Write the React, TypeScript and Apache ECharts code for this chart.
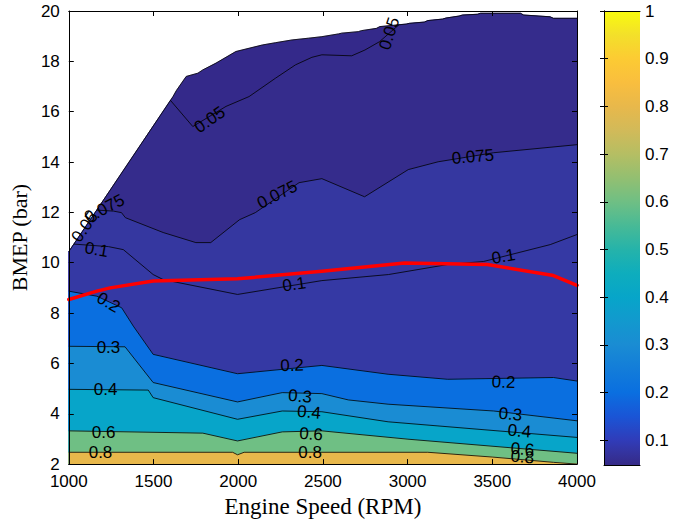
import React, { useEffect, useRef } from 'react';
import * as echarts from 'echarts';

// ---------- data ----------
const rpmMin = 1000;
const rpmMax = 4000;
const bmepMin = 2;
const bmepMax = 20;
const colorMin = 0.048;
const colorMax = 1;
const colorbarTicks = [0.1, 0.2, 0.3, 0.4, 0.5, 0.6, 0.7, 0.8, 0.9, 1];

// outline of the measured region (top edge)
const boundary: number[][] = [
  [1000, 10.44], [1615, 16.6], [1635, 16.84], [1693, 17.4], [1762, 17.53], [1791, 17.66],
  [1869, 17.93], [1986, 18.39], [2064, 18.52], [2143, 18.65], [2220, 18.74], [2318, 18.85],
  [2416, 18.92], [2494, 18.98], [2592, 19.09], [2611, 19.12], [2709, 19.18], [2728, 19.22],
  [2816, 19.31], [2836, 19.38], [2992, 19.48], [3011, 19.51], [3099, 19.56], [3119, 19.62],
  [3207, 19.68], [3226, 19.72], [3304, 19.8], [3324, 19.84], [3412, 19.87], [3431, 19.91],
  [3666, 19.91], [3685, 19.84], [3841, 19.77], [3861, 19.71], [4000, 19.71],
];

const contourLevels = [0.05, 0.075, 0.1, 0.2, 0.3, 0.4, 0.6, 0.8];
const c005 = [[1600, 16.45], [1732, 15.41], [1928, 16.21], [2064, 16.6], [2220, 17.33], [2338, 17.86], [2435, 18.16], [2494, 18.26], [2670, 18.22], [2748, 18.45], [2834, 18.78], [2950, 19.46]];
const c0075 = [[1165, 12.09], [1264, 12.05], [1311, 11.99], [1334, 11.79], [1557, 11.2], [1750, 10.8], [1838, 10.8], [2008, 11.71], [2101, 11.99], [2359, 13.18], [2494, 13.34], [2746, 12.62], [3004, 13.7], [3180, 14.01], [3508, 14.37], [4000, 14.69]];
const c01 = [[1030, 10.74], [1234, 10.64], [1322, 10.52], [1498, 9.53], [1557, 9.33], [1996, 8.74], [2494, 9.29], [2887, 9.53], [3238, 9.93], [3449, 10.05], [3842, 10.72], [4000, 11.12]];
const c02 = [[1000, 8.87], [1166, 8.67], [1312, 8.21], [1381, 7.48], [1498, 6.36], [1996, 5.59], [2494, 5.92], [2885, 5.57], [3236, 5.37], [3861, 5.44], [4000, 5.3]];
const c03 = [[1000, 6.68], [1332, 6.66], [1498, 5.24], [1996, 4.47], [2260, 4.84], [2494, 4.8], [2650, 4.55], [2885, 4.38], [3508, 4.11], [4000, 3.72]];
const c04 = [[1000, 4.97], [1469, 4.94], [1498, 4.64], [1996, 3.78], [2260, 4.11], [2494, 4.08], [2885, 3.68], [4000, 3.06]];
const c06 = [[1000, 3.32], [1791, 3.23], [1996, 2.92], [2260, 3.28], [2494, 3.32], [3002, 2.99], [4000, 2.43]];
const c08 = [[1000, 2.47], [1967, 2.47], [1996, 2.37], [2035, 2.47], [3119, 2.47], [3500, 2.28], [3861, 2.07], [4000, 2.0]];
const contourLines = [c005, c0075, c01, c02, c03, c04, c06, c08];

// fill colours: below 0.05, then one per level (region above each level)
const bandColors = ['#34298A', '#352C8C', '#3537A0', '#3539A4', '#0A6FE0', '#1A8CD3', '#07A5C9', '#6FBF84', '#E8B84B'];

// contour labels: [text, rpm, bmep, rotation deg]
const contourLabels: [string, number, number, number][] = [
  ['0.05', 1832, 15.68, 35],
  ['0.05', 2892, 19.1, 72],
  ['0.05', 1094, 11.43, 55],
  ['0.075', 1211, 12.15, 28],
  ['0.075', 2230, 12.7, 27],
  ['0.075', 3385, 14.21, 5],
  ['0.1', 1164, 10.52, -10],
  ['0.1', 2330, 9.14, 8],
  ['0.1', 3566, 10.25, 10],
  ['0.2', 1234, 8.42, -30],
  ['0.2', 2318, 5.92, 2],
  ['0.2', 3566, 5.25, -2],
  ['0.3', 1234, 6.64, 0],
  ['0.3', 2365, 4.69, -5],
  ['0.3', 3607, 3.98, -5],
  ['0.4', 1217, 4.97, 0],
  ['0.4', 2418, 4.06, -5],
  ['0.4', 3660, 3.31, -5],
  ['0.6', 1205, 3.27, 0],
  ['0.6', 2430, 3.19, -4],
  ['0.6', 3678, 2.59, -5],
  ['0.8', 1187, 2.47, 0],
  ['0.8', 2424, 2.47, 0],
  ['0.8', 3678, 2.28, -5],
];

// red operating line
const redLine = [[1000, 8.54], [1166, 8.87], [1244, 9.0], [1498, 9.27], [1996, 9.36], [2494, 9.66], [2982, 9.99], [3471, 9.93], [3861, 9.49], [4000, 9.1]];

// colour map (value -> colour)
const cmapValues = [0.048, 0.075, 0.1, 0.15, 0.2, 0.25, 0.3, 0.35, 0.4, 0.45, 0.5, 0.55, 0.6, 0.65, 0.7, 0.75, 0.8, 0.85, 0.9, 0.95, 1];
const cmapColors = ['#352A87', '#3434A0', '#303CB9', '#1A55D6', '#0A6FE0', '#137DD9', '#1A8CD3', '#1299CE', '#07A5C9', '#0EADBD', '#25B3AA', '#48BA96', '#6FBF84', '#93BF71', '#B5BE63', '#D2BA59', '#E8B84B', '#F9BE3E', '#FCCB33', '#F3E02A', '#F9FB0E'];

const SANS = '"Liberation Sans", Arial, Helvetica, sans-serif';
const SERIF = '"Liberation Serif", "Times New Roman", serif';

function fillPolygon(line: number[][] | null): number[][] {
  if (!line) return [...boundary, [rpmMax, bmepMin], [rpmMin, bmepMin]];
  const x0 = line[0][0];
  const x1 = line[line.length - 1][0];
  const before = boundary.filter((p) => p[0] < x0);
  const after = boundary.filter((p) => p[0] > x1);
  return [...before, ...line, ...after, [rpmMax, bmepMin], [rpmMin, bmepMin]];
}

export default function App() {
  const ref = useRef<HTMLDivElement>(null);
  useEffect(() => {
    if (!ref.current) return;
    const chart = echarts.init(ref.current, null, { renderer: 'svg' });

    const axisLine = { show: true, lineStyle: { color: '#000', width: 1 } };
    const tickIn = { show: true, inside: true, length: 5, lineStyle: { color: '#000', width: 1 } };
    const labelStyle = { color: '#000', fontSize: 17, fontFamily: SANS };

    const stops = cmapValues.map((v, i) => ({ offset: (v - colorMin) / (colorMax - colorMin), color: cmapColors[i] }));

    const lineSeries = [boundary, ...contourLines].map((ln) => ({
      type: 'line',
      xAxisIndex: 0,
      yAxisIndex: 0,
      data: ln,
      symbol: 'none',
      silent: true,
      z: 3,
      lineStyle: { color: '#000', width: 0.8 },
    }));

    const option: any = {
      animation: false,
      backgroundColor: '#fff',
      grid: [
        { left: 65, top: 11, width: 512, height: 454, containLabel: false },
        { left: 604, top: 11, width: 36, height: 454, containLabel: false },
      ],
      xAxis: [
        {
          type: 'value', gridIndex: 0, min: rpmMin, max: rpmMax, interval: 500, position: 'bottom', z: 10,
          axisLine, axisTick: tickIn, splitLine: { show: false },
          axisLabel: { ...labelStyle, margin: 9, formatter: (v: number) => String(v) },
          name: 'Engine Speed (RPM)', nameLocation: 'middle', nameGap: 26,
          nameTextStyle: { color: '#000', fontSize: 23, fontFamily: SERIF },
        },
        {
          type: 'value', gridIndex: 0, min: rpmMin, max: rpmMax, interval: 500, position: 'top', z: 10,
          axisLine, axisTick: tickIn, splitLine: { show: false }, axisLabel: { show: false },
        },
        {
          type: 'value', gridIndex: 1, min: 0, max: 1, position: 'bottom', z: 10,
          axisLine, axisTick: { show: false }, splitLine: { show: false }, axisLabel: { show: false },
        },
        {
          type: 'value', gridIndex: 1, min: 0, max: 1, position: 'top', z: 10,
          axisLine, axisTick: { show: false }, splitLine: { show: false }, axisLabel: { show: false },
        },
      ],
      yAxis: [
        {
          type: 'value', gridIndex: 0, min: bmepMin, max: bmepMax, interval: 2, position: 'left', z: 10,
          axisLine, axisTick: tickIn, splitLine: { show: false },
          axisLabel: { ...labelStyle, margin: 9, padding: [0, 0, 8, 0] },
          name: 'BMEP (bar)', nameLocation: 'middle', nameGap: 36, nameRotate: 90,
          nameTextStyle: { color: '#000', fontSize: 22, fontFamily: SERIF },
        },
        {
          type: 'value', gridIndex: 0, min: bmepMin, max: bmepMax, interval: 2, position: 'right', z: 10,
          axisLine, axisTick: tickIn, splitLine: { show: false }, axisLabel: { show: false },
        },
        {
          type: 'value', gridIndex: 1, min: colorMin, max: colorMax, position: 'right', z: 10,
          axisLine,
          axisTick: { ...tickIn, length: 4, customValues: colorbarTicks },
          splitLine: { show: false },
          axisLabel: { ...labelStyle, margin: 5, customValues: colorbarTicks, formatter: (v: number) => String(+v.toFixed(2)) },
        },
        {
          type: 'value', gridIndex: 1, min: colorMin, max: colorMax, position: 'left', z: 10,
          axisLine,
          axisTick: { ...tickIn, length: 4, customValues: colorbarTicks },
          splitLine: { show: false }, axisLabel: { show: false },
        },
      ],
      series: [
        {
          type: 'custom',
          xAxisIndex: 0,
          yAxisIndex: 0,
          silent: true,
          z: 1,
          data: bandColors.map((_, i) => i),
          renderItem: (params: any, api: any) => {
            const i = params.dataIndex;
            const poly = fillPolygon(i === 0 ? null : contourLines[i - 1]);
            const pts = poly.map((p) => api.coord(p));
            return {
              type: 'polygon',
              z2: i,
              shape: { points: pts },
              style: { fill: bandColors[i], stroke: bandColors[i], lineWidth: 0.5 },
            };
          },
        },
        ...lineSeries,
        {
          type: 'line',
          xAxisIndex: 0,
          yAxisIndex: 0,
          data: redLine,
          symbol: 'none',
          silent: true,
          z: 4,
          lineStyle: { color: '#FF0000', width: 3.5, cap: 'round', join: 'round' },
        },
        {
          type: 'custom',
          xAxisIndex: 0,
          yAxisIndex: 0,
          silent: true,
          z: 5,
          data: contourLabels.map((_, i) => i),
          renderItem: (params: any, api: any) => {
            const [text, x, y, rot] = contourLabels[params.dataIndex];
            const p = api.coord([x, y]);
            return {
              type: 'text',
              x: p[0],
              y: p[1],
              rotation: (rot * Math.PI) / 180,
              style: {
                text,
                fill: '#000',
                font: `17px ${SANS}`,
                align: 'center',
                verticalAlign: 'middle',
              },
            };
          },
        },
        {
          type: 'custom',
          xAxisIndex: 2,
          yAxisIndex: 2,
          silent: true,
          z: 1,
          data: [0],
          renderItem: (params: any, api: any) => {
            const p0 = api.coord([0, colorMin]);
            const p1 = api.coord([1, colorMax]);
            return {
              type: 'rect',
              shape: { x: p0[0], y: p1[1], width: p1[0] - p0[0], height: p0[1] - p1[1] },
              style: { fill: new echarts.graphic.LinearGradient(0, 1, 0, 0, stops) },
            };
          },
        },
      ],
    };

    chart.setOption(option);
    return () => chart.dispose();
  }, []);

  return (
    <div
      ref={ref}
      style={{ position: 'absolute', left: 0, top: 0, width: 674, height: 523, background: '#fff' }}
    />
  );
}
